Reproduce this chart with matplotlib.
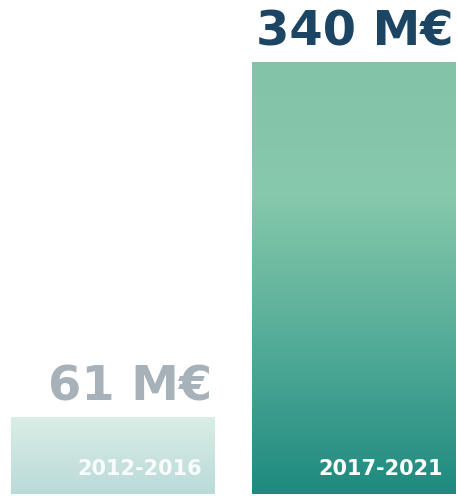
import numpy as np
import matplotlib
matplotlib.use("Agg")
import matplotlib.pyplot as plt
from matplotlib.colors import LinearSegmentedColormap

# data
periods = ["2012-2016", "2017-2021"]
amounts = [61, 340]
value_labels = ["61 M€", "340 M€"]

# colours
value_colors = ["#A6B1B9", "#1C4563"]
gradients = [
    [(0.0, "#DAEEE5"), (1.0, "#BADAD9")],
    [(0.0, "#83C3A8"), (0.3, "#87C9AC"), (0.6, "#5BB09A"), (1.0, "#1E8A80")],
]

plt.rcParams['font.family'] = ['DejaVu Sans']

fig = plt.figure(figsize=(4.57, 4.96), dpi=100)
ax = fig.add_axes([0, 0, 1, 1])
ax.set_xlim(-0.467, 1.429)
ax.set_ylim(-1.5, 389)
ax.axis('off')

x = np.arange(len(periods))
bars = ax.bar(x, amounts, width=0.846, color='none', edgecolor='none')

for i, b in enumerate(bars):
    cmap = LinearSegmentedColormap.from_list("g%d" % i, gradients[i])
    grad = np.linspace(0, 1, 256).reshape(-1, 1)
    x0, w, h = b.get_x(), b.get_width(), b.get_height()
    im = ax.imshow(grad, cmap=cmap, aspect='auto', origin='upper',
                   extent=[x0, x0 + w, 0, h], zorder=1)
    im.set_clip_path(b)

    # value above the bar, right aligned to bar edge
    ax.text(x0 + w - 0.008, h + 13, value_labels[i], ha='right', va='baseline',
            fontsize=34.5, fontweight='bold', color=value_colors[i], zorder=3)
    # period label inside the bar
    ax.text(x0 + w - 0.052, 15, periods[i], ha='right', va='baseline',
            fontsize=15, fontweight='bold', color='white',
            alpha=0.9 if i == 0 else 1.0, zorder=3)

fig.savefig("out.png", dpi=100)
